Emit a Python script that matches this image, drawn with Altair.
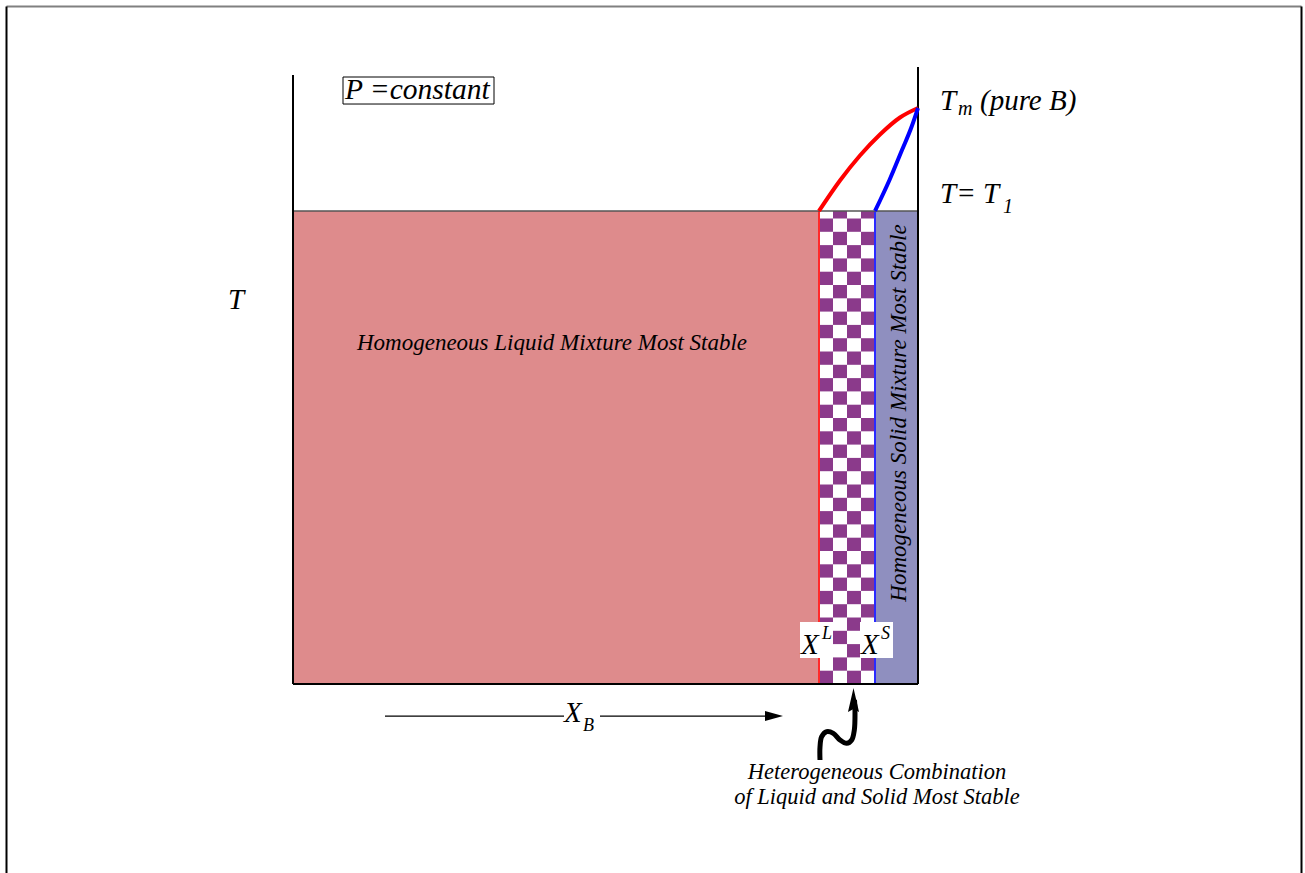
import altair as alt
import pandas as pd

# Composition axis: X_B runs from 0 (pure A) to 1 (pure B).
# Temperature axis is scaled so T = 0 at the base and T = 1 at Tm of pure B.
X_LIQ = 0.8416      # liquidus composition X^L at T1
X_SOL = 0.9312      # solidus composition X^S at T1
T_ONE = 0.8212      # isotherm T = T1
T_LEFT_TOP = 1.0573
T_RIGHT_TOP = 1.0712

liquidus_x = [0.8416, 0.8752, 0.9072, 0.9392, 0.9712, 1.000]
liquidus_t = [0.8212, 0.8741, 0.9175, 0.9540, 0.9835, 1.000]
solidus_x = [0.9312, 0.9544, 0.9744, 0.9896, 1.000]
solidus_t = [0.8212, 0.8750, 0.9270, 0.9670, 1.000]

# wavy pointer from the caption up to the two-phase band
squiggle_x = [0.8432, 0.8432, 0.8459, 0.8539, 0.8645, 0.8752, 0.8859, 0.8939, 0.8981, 0.8992, 0.8984]
squiggle_t = [-0.1319, -0.1094, -0.0915, -0.0828, -0.0856, -0.0972, -0.1030, -0.0972, -0.0799, -0.0503, -0.0278]

XDOM = [-0.4688, 1.6192]
YDOM = [-0.328125, 1.1875]
FONT = "Liberation Serif"

xs = alt.Scale(domain=XDOM, nice=False, zero=False)
ys = alt.Scale(domain=YDOM, nice=False, zero=False)


def X(field="x"):
    return alt.X(f"{field}:Q", scale=xs, axis=None)


def Y(field="y"):
    return alt.Y(f"{field}:Q", scale=ys, axis=None)


def rects(rows, **mark):
    df = pd.DataFrame(rows, columns=["x", "x2", "y", "y2"])
    return alt.Chart(df).mark_rect(**mark).encode(
        x=X(), x2="x2:Q", y=Y(), y2="y2:Q")


def segs(rows, **mark):
    df = pd.DataFrame(rows, columns=["x", "x2", "y", "y2"])
    return alt.Chart(df).mark_rule(**mark).encode(
        x=X(), x2="x2:Q", y=Y(), y2="y2:Q")


def label(x, y, text, size, align="left", angle=0):
    df = pd.DataFrame({"x": [x], "y": [y], "t": [text]})
    kw = dict(font=FONT, fontStyle="italic", fontSize=size, align=align,
              baseline="alphabetic", color="black")
    if angle:
        kw["angle"] = angle
    return alt.Chart(df).mark_text(**kw).encode(x=X(), y=Y(), text="t:N")


# phase regions
liquid = rects([[0.0, X_LIQ, 0.0, T_ONE]], color="#DE8B8C")
solid = rects([[X_SOL, 1.0, 0.0, T_ONE]], color="#8F8FBF")

# checkerboard for the two-phase band
NCOL, ROW_H = 4, 0.02309
cw = (X_SOL - X_LIQ) / NCOL
cells = []
k = 0
while k * ROW_H < T_ONE:
    for i in range(NCOL):
        if (i + k) % 2 == 0:
            cells.append([X_LIQ + i * cw, X_LIQ + (i + 1) * cw,
                          k * ROW_H, min((k + 1) * ROW_H, T_ONE)])
    k += 1
band_white = rects([[X_LIQ, X_SOL, 0.0, T_ONE]], color="white")
checker = rects(cells, color="#8B3A8B")

# boundary lines of the band
edge_l = segs([[X_LIQ, X_LIQ, 0.0, T_ONE]], color="#FF2A2A", strokeWidth=2)
edge_s = segs([[X_SOL, X_SOL, 0.0, T_ONE]], color="#2A2AFF", strokeWidth=2)

# isotherm and axes
iso = segs([[0.0, 1.0, T_ONE, T_ONE]], color="#555555", strokeWidth=1.5)
axes = segs([[0.0, 0.0, 0.0, T_LEFT_TOP],
             [1.0, 1.0, 0.0, T_RIGHT_TOP],
             [0.0, 1.0, 0.0, 0.0]], color="black", strokeWidth=2)

# outer frame
frame_top = segs([[-0.4584, 1.6136, 1.1762, 1.1762]], color="#808080", strokeWidth=2)
frame_side = segs([[-0.4584, -0.4584, -0.34, 1.1762],
                   [1.6136, 1.6136, -0.34, 1.1762]], color="black", strokeWidth=2)

# liquidus and solidus curves
liq_df = pd.DataFrame({"x": liquidus_x, "y": liquidus_t, "o": range(len(liquidus_x))})
sol_df = pd.DataFrame({"x": solidus_x, "y": solidus_t, "o": range(len(solidus_x))})
liq_curve = alt.Chart(liq_df).mark_line(color="red", strokeWidth=4, interpolate="monotone").encode(
    x=X(), y=Y(), order="o:Q")
sol_curve = alt.Chart(sol_df).mark_line(color="blue", strokeWidth=4, interpolate="monotone").encode(
    x=X(), y=Y(), order="o:Q")

# composition arrow along the bottom, broken for its label
comp_arrow = segs([[0.1472, 0.4336, -0.0556, -0.0556],
                   [0.4912, 0.7632, -0.0556, -0.0556]], color="black", strokeWidth=1.2)
head_right = alt.Chart(pd.DataFrame({"x": [0.7696], "y": [-0.0556]})).mark_point(
    shape="M-1,-0.556L1,0L-1,0.556Z", filled=True, size=324, color="black", opacity=1
).encode(x=X(), y=Y())

# wavy pointer
sq_df = pd.DataFrame({"x": squiggle_x, "y": squiggle_t, "o": range(len(squiggle_x))})
squiggle = alt.Chart(sq_df).mark_line(color="black", strokeWidth=5, interpolate="catmull-rom").encode(
    x=X(), y=Y(), order="o:Q")
head_up = alt.Chart(pd.DataFrame({"x": [0.8968], "y": [-0.0278]})).mark_point(
    shape="M0,-1L0.46,1L0,0.75L-0.46,1Z", filled=True, size=576, color="black", opacity=1
).encode(x=X(), y=Y())

# boxes behind labels
p_box = rects([[0.0800, 0.3216, 1.0069, 1.0538]], fill="white", stroke="black", strokeWidth=1)
xl_box = rects([[0.8112, 0.8640, 0.0451, 0.1076]], color="white")
xs_box = rects([[0.9072, 0.9600, 0.0451, 0.1076]], color="white")

texts = [
    label(0.0832, 1.0156, "P =constant", 29.5),
    label(1.0352, 0.9965, "T", 29),
    label(1.0640, 0.9878, "m", 20),
    label(1.0992, 0.9965, "(pure B)", 29),
    label(1.0352, 0.8351, "T= T", 29),
    label(1.1360, 0.8177, "1", 20),
    label(-0.1040, 0.6510, "T", 29),
    label(0.4144, 0.5799, "Homogeneous Liquid Mixture Most Stable", 23, align="center"),
    label(0.9808, 0.4705, "Homogeneous Solid Mixture Most Stable", 23, align="center", angle=270),
    label(0.8128, 0.0521, "X", 29),
    label(0.8464, 0.0781, "L", 18),
    label(0.9088, 0.0521, "X", 29),
    label(0.9408, 0.0781, "S", 18),
    label(0.4336, -0.0660, "X", 29),
    label(0.4640, -0.0816, "B", 18),
    label(0.9344, -0.1649, "Heterogeneous Combination", 22.5, align="center"),
    label(0.9344, -0.2083, "of Liquid and Solid Most Stable", 22.5, align="center"),
]

chart = alt.layer(
    liquid, solid, band_white, checker, edge_l, edge_s, iso, axes,
    frame_top, frame_side, liq_curve, sol_curve,
    comp_arrow, head_right, squiggle, head_up,
    p_box, xl_box, xs_box, *texts,
).properties(
    width=1305, height=873, padding=0,
    autosize=alt.AutoSizeParams(type="none"),
    background="white",
).configure_view(stroke=None)

chart.save("out.html", embed_options={"renderer": "svg", "actions": False})
